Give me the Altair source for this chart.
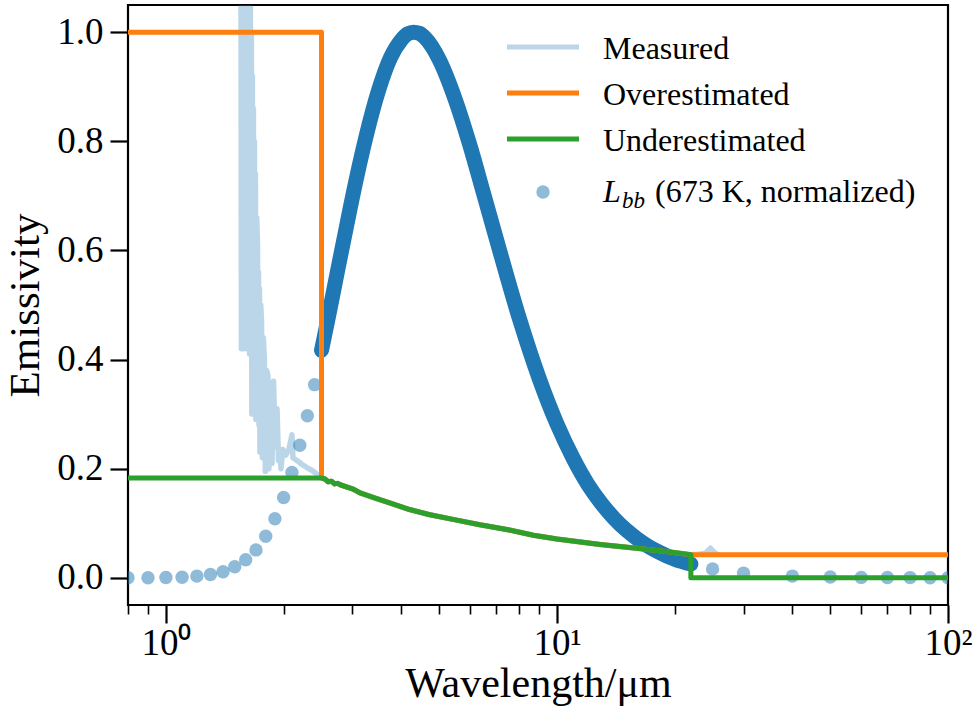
import altair as alt
import pandas as pd

# ---------------- data ----------------
# Blackbody curve (673 K, normalized), sparse samples outside the measured window
bb_lam_sparse = [0.8, 0.9, 1.0, 1.1, 1.2, 1.3, 1.4, 1.5, 1.6, 1.7, 1.8, 1.9, 2.0,
                 2.1, 2.2, 2.3, 2.4, 25, 30, 40, 50, 60, 70, 80, 90, 100]
bb_val_sparse = [0.0, 0.0, 0.0005, 0.001, 0.003, 0.006, 0.011, 0.02, 0.033, 0.051,
                 0.076, 0.108, 0.147, 0.193, 0.243, 0.297, 0.354, 0.016, 0.0085,
                 0.003, 0.0012, 0.0006, 0.0003, 0.0002, 0.0001, 0.0001]

# Blackbody curve, densely sampled between 2.5 and 22 um
bb_lam_dense = [2.5, 2.6, 2.75, 2.9, 3.0, 3.25, 3.5, 3.75, 4.0, 4.15, 4.3, 4.45,
                4.6, 5.0, 5.5, 6.0, 6.5, 7.0, 8.0, 9.0, 10, 11, 12, 13, 14, 15,
                16, 17, 18, 20, 22]
bb_val_dense = [0.417, 0.476, 0.564, 0.646, 0.698, 0.809, 0.894, 0.953, 0.986,
                0.997, 1.0, 0.998, 0.990, 0.950, 0.876, 0.791, 0.703, 0.621,
                0.477, 0.366, 0.282, 0.219, 0.171, 0.136, 0.109, 0.088, 0.072,
                0.059, 0.049, 0.034, 0.025]

# Measured emissivity: noisy short-wave part
meas_lam_noise = [1.555, 1.560, 1.565, 1.570, 1.574, 1.580, 1.587, 1.594, 1.602,
                  1.609, 1.616, 1.623, 1.630, 1.637, 1.644, 1.649, 1.654, 1.659,
                  1.664, 1.669, 1.674, 1.679, 1.684, 1.689, 1.694, 1.699, 1.707,
                  1.715, 1.720, 1.725, 1.730, 1.735, 1.740, 1.748, 1.756, 1.765,
                  1.775, 1.786, 1.796, 1.810, 1.824, 1.834, 1.845, 1.857, 1.868,
                  1.885, 1.902, 1.924, 1.941, 1.958, 1.969, 1.992, 2.027, 2.063,
                  2.101, 2.113, 2.163, 2.226, 2.293, 2.362, 2.434]
meas_val_noise = [1.30, 0.42, 1.28, 0.44, 1.25, 0.42, 1.22, 0.45, 1.20,
                  0.42, 1.15, 0.43, 1.12, 0.41, 1.08, 0.44, 1.00, 0.30,
                  0.92, 0.32, 0.86, 0.30, 0.80, 0.31, 0.74, 0.29, 0.66,
                  0.61, 0.30, 0.56, 0.28, 0.53, 0.23, 0.50, 0.47, 0.22,
                  0.44, 0.40, 0.195, 0.38, 0.37, 0.20, 0.35, 0.34, 0.21,
                  0.36, 0.24, 0.31, 0.215, 0.23, 0.20, 0.235, 0.225, 0.235,
                  0.262, 0.22, 0.215, 0.208, 0.202, 0.197, 0.19]

# Measured emissivity in the 2.5-22 um window (shared by both estimates)
mid_lam = [2.5, 2.55, 2.6, 2.65, 2.7, 2.75, 2.8, 3.0, 3.15, 3.4, 3.7, 4.2, 4.7,
           5.5, 6.35, 7.5, 8.7, 10, 12.9, 16, 19, 22]
mid_val = [0.183, 0.181, 0.176, 0.177, 0.172, 0.173, 0.170, 0.163, 0.155, 0.147,
           0.138, 0.125, 0.116, 0.106, 0.097, 0.088, 0.078, 0.071, 0.061, 0.054,
           0.048, 0.042]

# Measured emissivity: long-wave tail
meas_lam_tail = [23.0, 24.0, 24.7, 25.3, 25.8]
meas_val_tail = [0.043, 0.045, 0.054, 0.046, 0.042]

# Extrapolations outside the measured window
over_lam = [0.8, 2.5] + mid_lam + [100]
over_val = [1.0, 1.0] + mid_val + [0.042]
under_lam = [0.8] + mid_lam + [22, 100]
under_val = [0.183] + mid_val + [0.0, 0.0]

meas_lam = meas_lam_noise + mid_lam + meas_lam_tail
meas_val = meas_val_noise + mid_val + meas_val_tail


def frame(lam, val):
    return pd.DataFrame({"lam": lam, "val": val, "i": range(len(lam))})


FONT = "Liberation Serif"
BLUE = "#1f77b4"

x_scale = alt.Scale(type="log", domain=[0.8, 100], nice=False, zero=False)
y_scale = alt.Scale(domain=[-0.05, 1.05], nice=False, zero=False)

minor = [0.8, 0.9, 1, 2, 3, 4, 5, 6, 7, 8, 9, 10, 20, 30, 40, 50, 60, 70, 80, 90, 100]
major_test = "datum.value == 1 || datum.value == 10 || datum.value == 100"

x_axis = alt.Axis(
    values=minor,
    labelExpr="datum.value == 1 ? '10⁰' : datum.value == 10 ? '10¹' : datum.value == 100 ? '10²' : ''",
    tickSize={"condition": {"test": major_test, "value": 18}, "value": 9},
    tickWidth={"condition": {"test": major_test, "value": 2.2}, "value": 1.6},
    tickColor="black",
    labelFont=FONT, labelFontSize=37, labelColor="black", labelPadding=2,
    labelFlush=False, labelOverlap=False,
    title="Wavelength/μm", titleFont=FONT, titleFontSize=42,
    titleFontWeight="normal", titleColor="black", titlePadding=2,
    domain=False, grid=False,
)
y_axis = alt.Axis(
    values=[0.0, 0.2, 0.4, 0.6, 0.8, 1.0], format=".1f",
    tickSize=18, tickWidth=2.2, tickColor="black",
    labelFont=FONT, labelFontSize=37, labelColor="black", labelPadding=7,
    title="Emissivity", titleFont=FONT, titleFontSize=43,
    titleFontWeight="normal", titleColor="black", titlePadding=9,
    domain=False, grid=False,
)

X = alt.X("lam:Q", scale=x_scale, axis=x_axis)
Y = alt.Y("val:Q", scale=y_scale, axis=y_axis)
Xn = alt.X("lam:Q", scale=x_scale)
Yn = alt.Y("val:Q", scale=y_scale)

band = alt.Chart(frame(bb_lam_dense, bb_val_dense)).mark_line(
    color=BLUE, strokeWidth=15, strokeCap="round", interpolate="monotone", clip=True
).encode(x=X, y=Y, order="i:Q")

dots = alt.Chart(frame(bb_lam_sparse, bb_val_sparse)).mark_circle(
    color=BLUE, opacity=0.5, size=180, clip=True
).encode(x=Xn, y=Yn)

measured = alt.Chart(frame(meas_lam, meas_val)).mark_line(
    color=BLUE, strokeOpacity=0.3, strokeWidth=5.5, strokeJoin="round", clip=True
).encode(x=Xn, y=Yn, order="i:Q")

over = alt.Chart(frame(over_lam, over_val)).mark_line(
    color="#ff7f0e", strokeWidth=5, strokeJoin="round", clip=True
).encode(x=Xn, y=Yn, order="i:Q")

under = alt.Chart(frame(under_lam, under_val)).mark_line(
    color="#2ca02c", strokeWidth=5, strokeJoin="round", clip=True
).encode(x=Xn, y=Yn, order="i:Q")

# ---------------- legend ----------------
leg_names = ["Measured", "Overestimated", "Underestimated"]
leg_colors = ["#bcd6e8", "#ff7f0e", "#2ca02c"]
leg_rows = [42, 88, 134]
LX0, LX1, TX = 379, 451, 475

legend_layers = []
for name, col, yy in zip(leg_names, leg_colors, leg_rows):
    legend_layers.append(
        alt.Chart().mark_rule(color=col, strokeWidth=5).encode(
            x=alt.value(LX0), x2=alt.value(LX1), y=alt.value(yy)
        )
    )
    legend_layers.append(
        alt.Chart().mark_text(
            text=name, font=FONT, fontSize=32, color="black",
            align="left", baseline="alphabetic"
        ).encode(x=alt.value(TX), y=alt.value(yy + 12))
    )

legend_layers.append(
    alt.Chart().mark_circle(color=BLUE, opacity=0.5, size=180).encode(
        x=alt.value(415), y=alt.value(187)
    )
)
legend_layers.append(
    alt.Chart().mark_text(
        text="L", font=FONT, fontSize=32, fontStyle="italic", color="black",
        align="left", baseline="alphabetic"
    ).encode(x=alt.value(TX), y=alt.value(197))
)
legend_layers.append(
    alt.Chart().mark_text(
        text="bb", font=FONT, fontSize=23, fontStyle="italic", color="black",
        align="left", baseline="alphabetic"
    ).encode(x=alt.value(TX + 19), y=alt.value(203))
)
legend_layers.append(
    alt.Chart().mark_text(
        text="(673 K, normalized)", font=FONT, fontSize=32, color="black",
        align="left", baseline="alphabetic"
    ).encode(x=alt.value(TX + 52), y=alt.value(197))
)

chart = alt.layer(band, dots, measured, over, under, *legend_layers).properties(
    width=820, height=600,
    autosize=alt.AutoSizeParams(type="none"),
    padding={"left": 128, "top": 5, "right": 31, "bottom": 116},
    background="white",
).configure_view(stroke="black", strokeWidth=2.2)

chart.save("out.html", embed_options={"renderer": "svg", "actions": False})
